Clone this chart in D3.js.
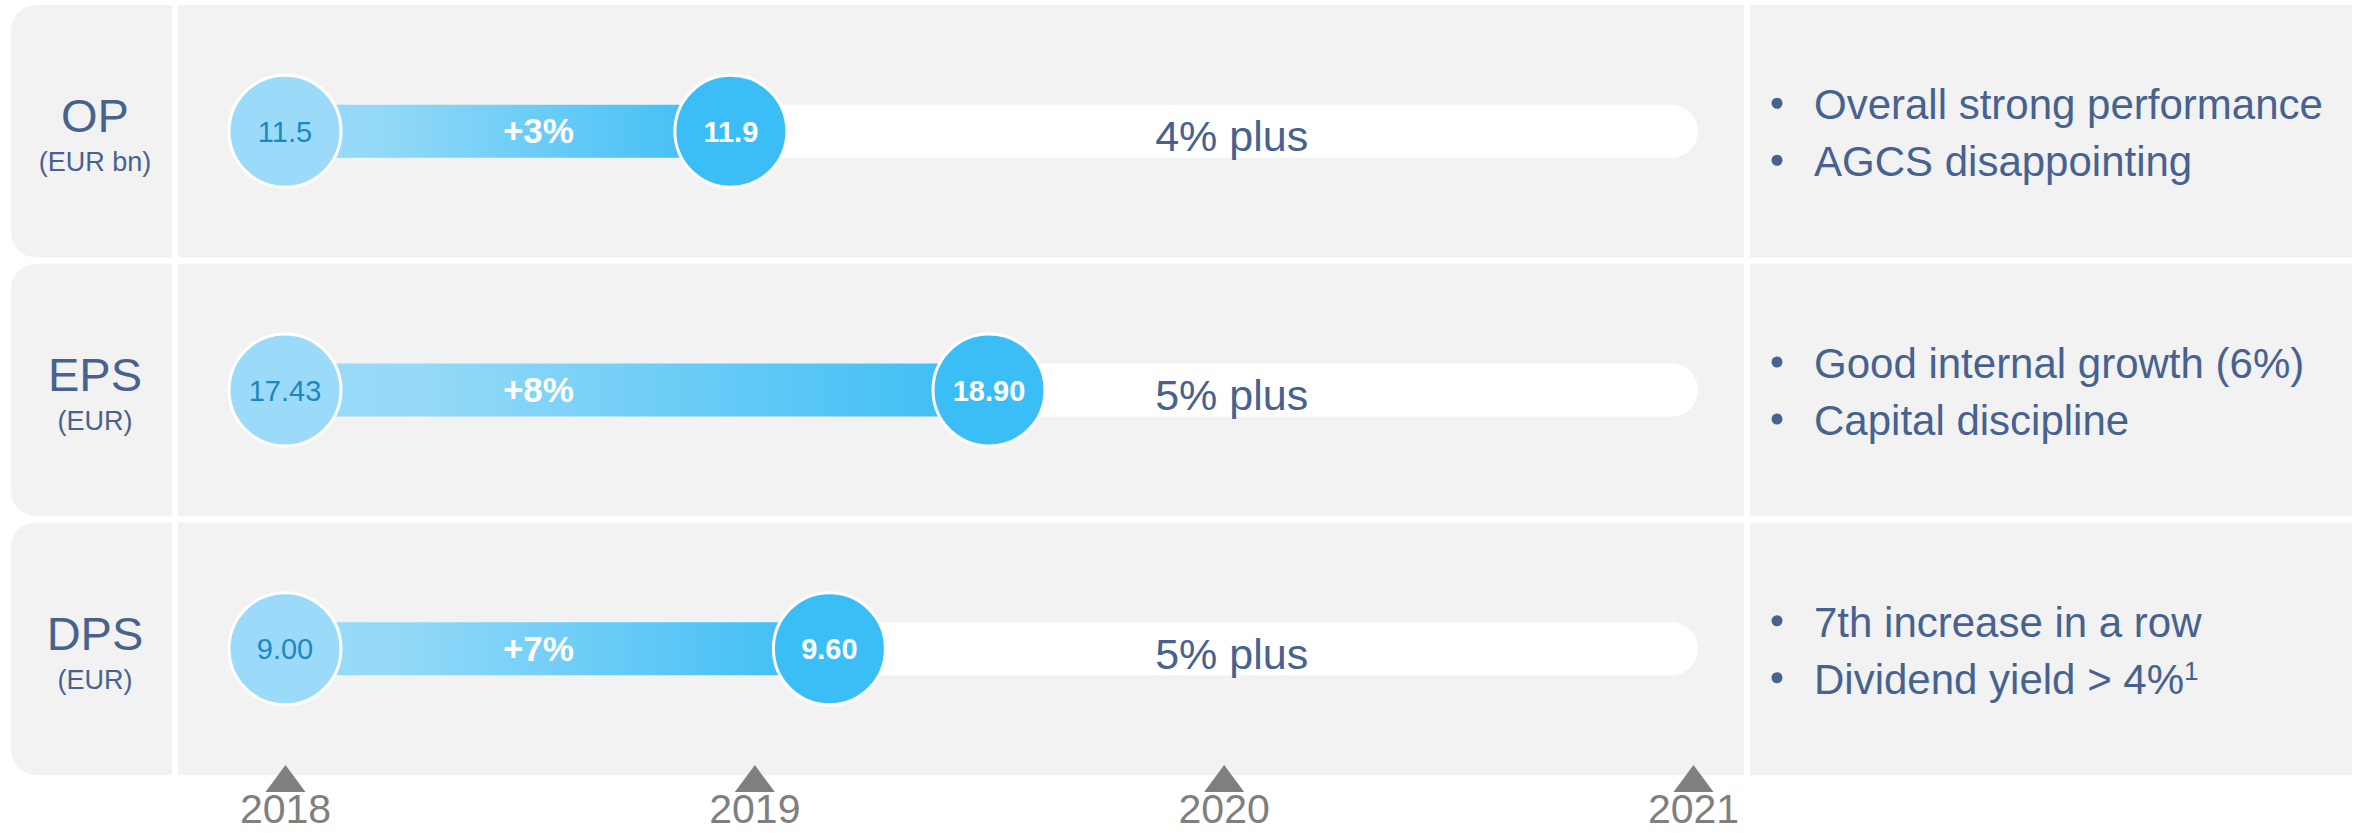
<!DOCTYPE html>
<html>
<head>
<meta charset="utf-8">
<script src="https://cdn.jsdelivr.net/npm/d3@7"></script>
<style>
  body { margin: 0; background: #ffffff; }
  svg { display: block; font-family: "Liberation Sans", Arial, sans-serif; }
</style>
</head>
<body>
<svg id="chart"></svg>
<script>
// values
var metrics = ["OP", "EPS", "DPS"];
var units = ["(EUR bn)", "(EUR)", "(EUR)"];
var value2018 = ["11.5", "17.43", "9.00"];
var value2019 = ["11.9", "18.90", "9.60"];
var growth = ["+3%", "+8%", "+7%"];
var targets = ["4% plus", "5% plus", "5% plus"];
// where the 2019 marker sits on the timeline
var reachedAt = [2018.95, 2019.50, 2019.16];
var comments = [
  ["Overall strong performance", "AGCS disappointing"],
  ["Good internal growth (6%)", "Capital discipline"],
  ["7th increase in a row", "Dividend yield > 4%"]
];
var footnotes = [["", ""], ["", ""], ["", "1"]];
var years = [2018, 2019, 2020, 2021];

var width = 2357;
var height = 833;

var textBlue = "#47628f";
var lightBlue = "#9bdbf9";
var darkBlue = "#3bbdf5";
var grey = "#7f7f7f";

var svg = d3.select("#chart").attr("width", width).attr("height", height);

var x = d3.scaleLinear().domain([2018, 2021]).range([285, 1693]);
var y = d3.scaleBand().domain(metrics).range([5, 775]).paddingInner(0.024);

var defs = svg.append("defs");
var grad = defs.append("linearGradient").attr("id", "barGrad");
grad.append("stop").attr("offset", "0%").attr("stop-color", lightBlue);
grad.append("stop").attr("offset", "20%").attr("stop-color", "#94d9f8");
grad.append("stop").attr("offset", "100%").attr("stop-color", darkBlue);

var left = 11, right = 2352, r = 25;

// row panels, rounded on the left only
svg.append("g").selectAll("path")
  .data(metrics)
  .enter().append("path")
  .attr("fill", "#f2f2f2")
  .attr("d", function(d) {
    var top = y(d), bot = y(d) + y.bandwidth();
    return "M" + (left + r) + "," + top + "H" + right + "V" + bot +
      "H" + (left + r) + "A" + r + "," + r + " 0 0 1 " + left + "," + (bot - r) +
      "V" + (top + r) + "A" + r + "," + r + " 0 0 1 " + (left + r) + "," + top + "Z";
  });

// column dividers
svg.append("g").selectAll("rect")
  .data([172, 1744])
  .enter().append("rect")
  .attr("x", function(d) { return d; })
  .attr("y", 0)
  .attr("width", 6)
  .attr("height", 778)
  .attr("fill", "#ffffff");

var rows = svg.append("g").selectAll("g")
  .data(metrics)
  .enter().append("g")
  .attr("transform", function(d) { return "translate(0," + (y(d) + y.bandwidth() / 2) + ")"; });

// labels
rows.append("text")
  .attr("x", 95).attr("y", 1)
  .attr("text-anchor", "middle")
  .attr("font-size", 47)
  .attr("fill", textBlue)
  .text(function(d) { return d; });

rows.append("text")
  .attr("x", 95).attr("y", 40)
  .attr("text-anchor", "middle")
  .attr("font-size", 27)
  .attr("fill", textBlue)
  .text(function(d, i) { return units[i]; });

// white target track
var barH = 53;
rows.append("path")
  .attr("fill", "#ffffff")
  .attr("d", function(d, i) {
    var x0 = x(reachedAt[i]), x1 = x(2021) + 5, h = barH / 2;
    return "M" + x0 + "," + (-h) + "H" + (x1 - h) +
      "A" + h + "," + h + " 0 0 1 " + (x1 - h) + "," + h + "H" + x0 + "Z";
  });

rows.append("text")
  .attr("x", x(2020) + 8).attr("y", 20)
  .attr("text-anchor", "middle")
  .attr("font-size", 43)
  .attr("fill", textBlue)
  .text(function(d, i) { return targets[i]; });

// achieved bar
rows.append("rect")
  .attr("x", x(2018))
  .attr("y", -barH / 2)
  .attr("width", function(d, i) { return x(reachedAt[i]) - x(2018); })
  .attr("height", barH)
  .attr("fill", "url(#barGrad)");

rows.append("text")
  .attr("x", x(2018.54)).attr("y", 12)
  .attr("text-anchor", "middle")
  .attr("font-size", 35)
  .attr("font-weight", "bold")
  .attr("fill", "#ffffff")
  .text(function(d, i) { return growth[i]; });

// markers
rows.append("circle")
  .attr("cx", x(2018)).attr("cy", 0).attr("r", 56)
  .attr("fill", lightBlue)
  .attr("stroke", "#ffffff").attr("stroke-width", 3);

rows.append("text")
  .attr("x", x(2018)).attr("y", 10.5)
  .attr("text-anchor", "middle")
  .attr("font-size", 29)
  .attr("fill", "#1b88c4")
  .text(function(d, i) { return value2018[i]; });

rows.append("circle")
  .attr("cx", function(d, i) { return x(reachedAt[i]); }).attr("cy", 0).attr("r", 56)
  .attr("fill", darkBlue)
  .attr("stroke", "#ffffff").attr("stroke-width", 3);

rows.append("text")
  .attr("x", function(d, i) { return x(reachedAt[i]); }).attr("y", 10.5)
  .attr("text-anchor", "middle")
  .attr("font-size", 29)
  .attr("font-weight", "bold")
  .attr("fill", "#ffffff")
  .text(function(d, i) { return value2019[i]; });

// comments on the right
rows.each(function(d, i) {
  var g = d3.select(this);
  comments[i].forEach(function(c, j) {
    var base = j === 0 ? -12 : 45;
    g.append("circle")
      .attr("cx", 1777).attr("cy", base - 16).attr("r", 5.5)
      .attr("fill", textBlue);
    var t = g.append("text")
      .attr("x", 1814).attr("y", base)
      .attr("font-size", 42)
      .attr("fill", textBlue)
      .text(c);
    if (footnotes[i][j]) {
      t.append("tspan")
        .attr("font-size", 26)
        .attr("dy", -14)
        .text(footnotes[i][j]);
    }
  });
});

// year axis
var axis = svg.append("g")
  .attr("transform", "translate(0,792)")
  .call(d3.axisBottom(x).tickValues(years).tickFormat(d3.format("d")).tickSize(0).tickPadding(0));
axis.select(".domain").remove();
axis.selectAll(".tick text")
  .attr("y", 31)
  .attr("dy", null)
  .attr("font-size", 41)
  .attr("font-family", "Liberation Sans, Arial, sans-serif")
  .attr("fill", grey);
axis.selectAll(".tick").append("path")
  .attr("d", "M-20,0L0,-27L20,0Z")
  .attr("fill", grey);
</script>
</body>
</html>
